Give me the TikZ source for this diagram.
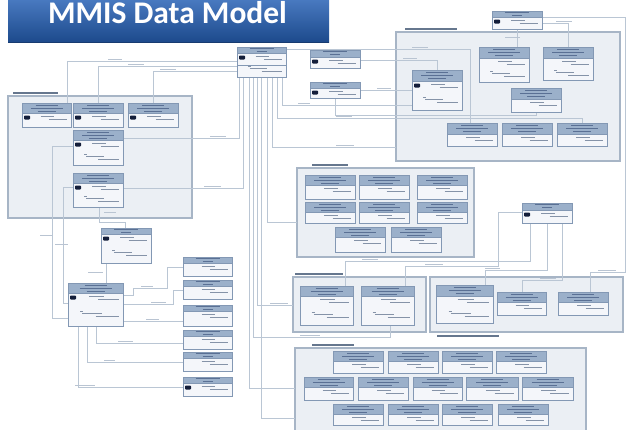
\documentclass[tikz,border=0pt]{standalone}
\usepackage{fontspec}
\setmainfont{Carlito}
\usetikzlibrary{calc}
\definecolor{pkgline}{HTML}{A7B5C6}
\definecolor{pkgfill}{HTML}{EBEFF4}
\definecolor{bodyfill}{HTML}{F4F6FA}
\definecolor{clsborder}{HTML}{8398B4}
\definecolor{hdrcol}{HTML}{9BB0CA}
\definecolor{hdrtxtcol}{HTML}{5A7094}
\definecolor{bodytxtcol}{HTML}{8593A8}
\definecolor{conncol}{HTML}{BAC6D4}
\definecolor{lblcol}{HTML}{B9C4D2}
\definecolor{pkglblcol}{HTML}{66778E}
\definecolor{icon}{HTML}{141E3A}
\definecolor{bantop}{HTML}{4A7BC2}
\definecolor{banbot}{HTML}{1D4A8C}
\pgfdeclarelayer{bglayer}
\pgfdeclarelayer{pkglayer}
\pgfdeclarelayer{connlayer}
\pgfsetlayers{bglayer,pkglayer,connlayer,main}
\tikzset{
  pkg/.style={draw=pkgline, fill=pkgfill, line width=1.3pt, inner sep=0pt, outer sep=0pt, anchor=north west},
  clsbox/.style={fill=bodyfill, inner sep=0pt, outer sep=0pt, anchor=north west},
  clsline/.style={draw=clsborder, line width=0.6pt},
  hdrfill/.style={fill=hdrcol},
  hdrtxt/.style={draw=hdrtxtcol, line width=0.65pt},
  bodytxt/.style={draw=bodytxtcol, line width=0.5pt},
  conn/.style={draw=conncol, line width=0.55pt},
  lblmark/.style={draw=lblcol, line width=0.7pt},
  pkglbl/.style={draw=pkglblcol, line width=1.2pt},
}
% name, x, y, w, h, header height, icon
\newcommand\cls[7]{%
  \node[clsbox, minimum width=#4pt, minimum height=#5pt] (#1) at (#2,#3) {};
  \fill[hdrfill] (#1.north west) rectangle ([yshift=-#6pt]#1.north east);
  \draw[clsline] ([yshift=-#6pt]#1.north west) -- ([yshift=-#6pt]#1.north east);
  \draw[clsline] (#1.north west) rectangle (#1.south east);
  \ifdim #6pt>8pt
    \draw[hdrtxt] ([xshift=-11pt,yshift=-2.5pt]#1.north) -- ([xshift=11pt,yshift=-2.5pt]#1.north);
    \draw[hdrtxt] ([xshift=-16pt,yshift=-5.3pt]#1.north) -- ([xshift=16pt,yshift=-5.3pt]#1.north);
    \draw[hdrtxt] ([xshift=-9pt,yshift=-8.1pt]#1.north) -- ([xshift=9pt,yshift=-8.1pt]#1.north);
  \else
    \draw[hdrtxt] ([xshift=-12pt,yshift=-1.8pt]#1.north) -- ([xshift=12pt,yshift=-1.8pt]#1.north);
    \draw[hdrtxt] ([xshift=-5pt,yshift=-4.3pt]#1.north) -- ([xshift=5pt,yshift=-4.3pt]#1.north);
  \fi
  \ifnum#7=1
    \fill[icon, rounded corners=0.8pt] ([xshift=2pt,yshift={-#6pt-2.5pt}]#1.north west) rectangle ([xshift=8pt,yshift={-#6pt-6.5pt}]#1.north west);
  \fi
  \draw[bodytxt] ([xshift={0.38*#4pt},yshift={-#6pt-3.5pt}]#1.north west) -- ([xshift={0.66*#4pt},yshift={-#6pt-3.5pt}]#1.north west);
  \draw[bodytxt] ([xshift={0.55*#4pt},yshift={-#6pt-6pt}]#1.north west) -- ([xshift={#4pt-4pt},yshift={-#6pt-6pt}]#1.north west);
  \ifdim\dimexpr#5pt-#6pt\relax>19pt
    \draw[bodytxt] ([xshift={0.22*#4pt},yshift={-#6pt-0.55*(#5pt-#6pt)}]#1.north west) -- ([xshift={0.28*#4pt},yshift={-#6pt-0.55*(#5pt-#6pt)}]#1.north west);
    \draw[bodytxt] ([xshift={0.26*#4pt},yshift={-#6pt-0.55*(#5pt-#6pt)-2.5pt}]#1.north west) -- ([xshift={0.62*#4pt},yshift={-#6pt-0.55*(#5pt-#6pt)-2.5pt}]#1.north west);
    \draw[bodytxt] ([xshift={0.5*#4pt},yshift={-#6pt-0.55*(#5pt-#6pt)-5pt}]#1.north west) -- ([xshift={#4pt-4pt},yshift={-#6pt-0.55*(#5pt-#6pt)-5pt}]#1.north west);
  \fi
}
\newcommand\lblm[3]{\draw[lblmark] (#1,#2) -- ++(#3,0);}
\newcommand\pkglb[3]{\draw[pkglbl] (#1,#2) -- ++(#3,0);}
\begin{document}
\begin{tikzpicture}[x=1pt,y=-1pt]
\begin{pgfonlayer}{bglayer}
\fill[white] (0,0) rectangle (629,429);
\end{pgfonlayer}
\useasboundingbox (0,0) rectangle (629,429);

% ---------- packages ----------
\begin{pgfonlayer}{pkglayer}
\node[pkg, minimum width=224pt, minimum height=129pt] (pkgP) at (396,32) {};
\node[pkg, minimum width=184pt, minimum height=122pt] (pkgI) at (8,96) {};
\node[pkg, minimum width=177pt, minimum height=89pt] (pkgS) at (297,168) {};
\node[pkg, minimum width=133pt, minimum height=55pt] (pkgR) at (293,277) {};
\node[pkg, minimum width=193pt, minimum height=55pt] (pkgC) at (430,277) {};
\node[pkg, minimum width=291pt, minimum height=92pt] (pkgK) at (295,348) {};
\pkglb{405}{29}{52}
\pkglb{13}{93}{45}
\pkglb{312}{165}{36}
\pkglb{295}{274}{48}
\pkglb{437}{336}{62}
\pkglb{312}{345}{42}
\end{pgfonlayer}

% ---------- title banner ----------
\shade[top color=bantop, bottom color=banbot] (8,-2) rectangle (329,42);
\draw[banbot!80!black, line width=0.8pt] (8,42) -- (329,42);
\node[anchor=base, text=white, font=\fontsize{31.5}{34}\selectfont\bfseries, inner sep=0pt] (title) at (167.5,23) {MMIS Data Model};

% ---------- classes ----------
\cls{top}{237}{47}{49}{30}{6}{1}
\draw[clsline] (top.west|-0,65) -- (top.east|-0,65);
\cls{tr}{492}{11}{50}{18}{6}{1}
\cls{la}{310}{50}{50}{18}{7}{1}
\cls{lb}{310}{82}{50}{16}{6}{1}
\cls{pa}{479}{47}{50}{35}{11}{0}
\cls{pb}{543}{47}{50}{33}{11}{0}
\cls{pc}{511}{88}{50}{24}{11}{0}
\cls{pd}{412}{70}{50}{40}{11}{1}
\cls{pe}{447}{123}{50}{23}{11}{0}
\cls{pf}{502}{123}{50}{23}{11}{0}
\cls{pg}{557}{123}{50}{23}{11}{0}

\cls{i1}{22}{103}{49}{24}{10}{1}
\cls{i2}{73}{103}{50}{24}{10}{1}
\cls{i3}{128}{103}{50}{24}{10}{1}
\cls{i4}{73}{130}{50}{35}{10}{1}
\cls{i5}{73}{173}{50}{34}{10}{1}
\cls{c1}{101}{228}{50}{35}{6}{1}
\cls{smp}{68}{283}{55}{43}{10}{1}
\cls{r1}{183}{257}{49}{19}{6}{0}
\cls{r2}{183}{280}{49}{19}{6}{0}
\cls{r3}{183}{305}{49}{21}{6}{0}
\cls{r4}{183}{330}{49}{19}{6}{0}
\cls{r5}{183}{352}{49}{19}{6}{0}
\cls{r6}{183}{377}{49}{19}{6}{1}

\cls{s1}{305}{175}{50}{24}{10}{0}
\cls{s2}{359}{175}{50}{24}{10}{0}
\cls{s3}{417}{175}{50}{24}{10}{0}
\cls{s4}{305}{202}{50}{21}{10}{0}
\cls{s5}{359}{202}{50}{21}{10}{0}
\cls{s6}{417}{202}{50}{21}{10}{0}
\cls{s7}{335}{227}{50}{25}{10}{0}
\cls{s8}{391}{227}{50}{25}{10}{0}
\cls{rc}{522}{203}{50}{20}{7}{1}

\cls{ra1}{300}{286}{53}{39}{10}{0}
\cls{ra2}{361}{286}{53}{39}{10}{0}
\cls{co1}{436}{285}{57}{38}{11}{0}
\cls{co2}{497}{292}{49}{23}{10}{0}
\cls{co3}{558}{292}{50}{23}{10}{0}

\cls{k1}{333}{351}{50}{22}{10}{0}
\cls{k2}{388}{351}{50}{22}{10}{0}
\cls{k3}{442}{351}{50}{22}{10}{0}
\cls{k4}{496}{351}{50}{22}{10}{0}
\cls{k5}{304}{377}{49}{23}{10}{0}
\cls{k6}{358}{377}{50}{23}{10}{0}
\cls{k7}{413}{377}{49}{23}{10}{0}
\cls{k8}{466}{377}{52}{23}{10}{0}
\cls{k9}{522}{377}{51}{23}{10}{0}
\cls{k10}{333}{404}{50}{21}{10}{0}
\cls{k11}{388}{404}{50}{21}{10}{0}
\cls{k12}{442}{404}{50}{21}{10}{0}
\cls{k13}{498}{404}{50}{21}{10}{0}

% ---------- connectors ----------
\begin{pgfonlayer}{connlayer}
\draw[conn] (top.west|-0,61) -| (i1.north-|67,0);
\draw[conn] (top.west|-0,66) -| (i2.north-|98,0);
\draw[conn] (top.west|-0,71) -| (i3.north-|153,0);
\draw[conn] (top.south-|239,0) |- (i4.east|-0,138);
\draw[conn] (top.south-|243,0) |- (i5.east|-0,188);
\draw[conn] (top.south-|249,0) |- (pkgK.west|-0,388);
\draw[conn] (top.south-|253,0) |- (390,337) -- (ra2.south-|390,0);
\draw[conn] (top.south-|257,0) |- (pkgR.west|-0,305);
\draw[conn] (top.south-|261,0) |- (pkgK.west|-0,418);
\draw[conn] (top.south-|267,0) |- (pkgS.west|-0,222);
\draw[conn] (top.south-|272,0) |- (pkgP.west|-0,147);
\draw[conn] (top.south-|277,0) |- (582,118) -- (pg.north-|582,0);
\draw[conn] (top.south-|282,0) |- (pd.west|-0,105);
\draw[conn] (top.east|-0,49) -| (pe.north-|470,0);
\draw[conn] (la.east|-0,60) -| (pd.north-|437,0);
\draw[conn] (lb.east|-0,90) -- (pd.west|-0,90);
\draw[conn] (tr.south-|517,0) -- (pa.north-|517,0);
\draw[conn] (tr.east|-0,23) -| (pb.north-|568,0);
\draw[conn] (tr.east|-0,17) -| (625,272) -| (co3.north-|590,0);
\draw[conn] (pc.south) |- (lb.south|-0,115) -- (lb.south);

\draw[conn] (i4.west|-0,146) -| (52,318) -- (smp.west|-0,318);
\draw[conn] (i5.west|-0,187) -| (63,303) -- (smp.west|-0,303);
\draw[conn] (i5.south-|99,0) -- (99,222) -| (c1.north-|125,0);
\draw[conn] (c1.south-|106,0) -- (smp.north-|106,0);

\draw[conn] (smp.east|-0,295) -- (133,295) |- (167,288) |- (r1.west|-0,267);
\draw[conn] (smp.east|-0,304) -| (173,290) -- (r2.west|-0,290);
\draw[conn] (smp.east|-0,321) -- (r3.west|-0,321);
\draw[conn] (smp.south-|96,0) |- (r4.west|-0,343);
\draw[conn] (smp.south-|87,0) |- (r5.west|-0,362);
\draw[conn] (smp.south-|78,0) |- (r6.west|-0,387);

\draw[conn] (rc.west|-0,212) -| (498,266) -| (ra2.north-|405,0);
\draw[conn] (rc.south-|530,0) |- (345,261) -- (ra1.north-|345,0);
\draw[conn] (rc.south-|547,0) |- (485,270) -- (co1.north-|485,0);
\draw[conn] (rc.south-|562,0) |- (522,280) -- (co2.north-|522,0);

% connector label marks
\lblm{108}{59.3}{14} \lblm{128}{64.3}{16} \lblm{160}{69.3}{16}
\lblm{210}{136.3}{16} \lblm{204}{186.3}{17} \lblm{104}{212.5}{12}
\lblm{40}{235}{12} \lblm{55}{244}{13} \lblm{88}{272.5}{15}
\lblm{141}{286.3}{12} \lblm{151}{302.3}{15} \lblm{146}{319.3}{13}
\lblm{118}{341.3}{15} \lblm{104}{360.3}{11} \lblm{75}{385.3}{20}
\lblm{403}{58.3}{14} \lblm{377}{88.3}{14} \lblm{412}{47.3}{16}
\lblm{505}{37}{15} \lblm{556}{21.3}{16} \lblm{336}{116.3}{16}
\lblm{336}{145.3}{18} \lblm{298}{103.3}{12} \lblm{270}{303.3}{18}
\lblm{300}{335.3}{20} \lblm{362}{259.3}{16} \lblm{425}{264.3}{18}
\lblm{485}{268.3}{15} \lblm{540}{278.3}{16} \lblm{598}{270.3}{18}
\lblm{330}{53}{14}
\end{pgfonlayer}
\end{tikzpicture}
\end{document}
